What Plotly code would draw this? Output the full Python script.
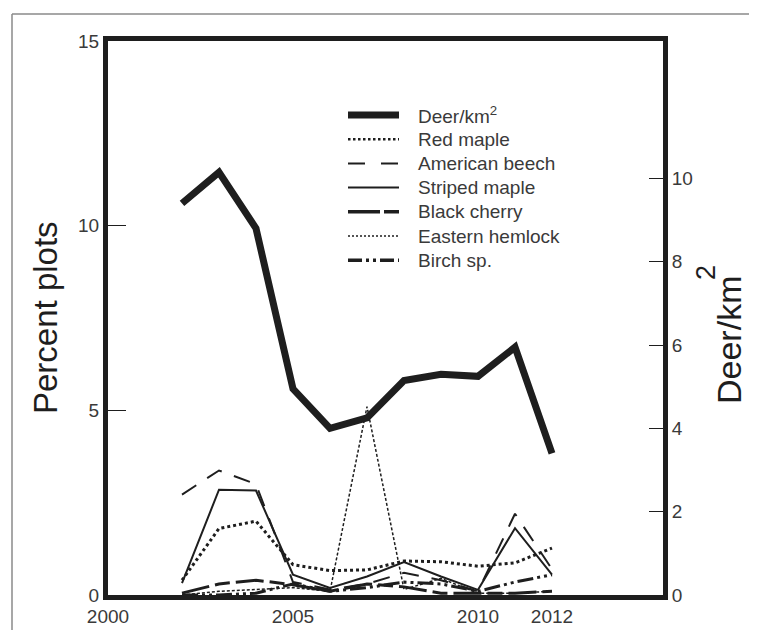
import plotly.graph_objects as go

years = [2002, 2003, 2004, 2005, 2006, 2007, 2008, 2009, 2010, 2011, 2012]
deer = [9.4, 10.15, 8.8, 4.95, 4.0, 4.25, 5.15, 5.3, 5.25, 5.95, 3.4]
red_maple = [0.4, 1.8, 2.0, 0.82, 0.66, 0.68, 0.92, 0.9, 0.78, 0.87, 1.27]
american_beech = [2.72, 3.37, 3.0, 0.35, 0.15, 0.3, 0.6, 0.4, 0.1, 2.2, 0.7]
striped_maple = [0.32, 2.85, 2.83, 0.55, 0.19, 0.5, 0.89, 0.5, 0.14, 1.81, 0.55]
black_cherry = [0.05, 0.3, 0.4, 0.28, 0.1, 0.3, 0.22, 0.05, 0.05, 0.05, 0.1]
eastern_hemlock = [0.0, 0.1, 0.15, 0.2, 0.1, 5.1, 0.15, 0.45, 0.05, 0.05, 0.1]
birch = [0.0, 0.0, 0.05, 0.3, 0.1, 0.2, 0.35, 0.3, 0.1, 0.35, 0.55]

series_names = ["Deer/km<sup>2</sup>", "Red maple", "American beech", "Striped maple",
                "Black cherry", "Eastern hemlock", "Birch sp."]

x_ticks = [2000, 2005, 2010, 2012]
y_ticks = [0, 5, 10, 15]
y2_ticks = [0, 2, 4, 6, 8, 10]

INK = "#1e1e1e"
TXT = "#3a3a3a"
FONT = "Liberation Sans, Arial, sans-serif"

# plot-area geometry in pixels (for the legend / frame placement)
L, R, T, B = 100, 102, 33, 43
PW, PH = 757 - L - R, 630 - T - B


def px_x(px):
    return (px - L) / PW


def px_y(py):
    return (630 - B - py) / PH


styles = [
    dict(color=INK, width=7),
    dict(color=INK, width=3, dash="3px,3px"),
    dict(color=INK, width=2, dash="17px,13px"),
    dict(color=INK, width=2),
    dict(color=INK, width=3, dash="28px,6px,15px,6px"),
    dict(color=INK, width=1.5, dash="3px,2px"),
    dict(color=INK, width=3, dash="16px,4px,3px,4px,3px,4px"),
]
legend_styles = [
    dict(color=INK, width=7),
    dict(color=INK, width=2.5, dash="2.5px,2.5px"),
    dict(color=INK, width=2, dash="17px,16px"),
    dict(color=INK, width=2),
    dict(color=INK, width=3.5, dash="32px,4px,15px,4px"),
    dict(color=INK, width=1.3, dash="2px,2px"),
    dict(color=INK, width=3.5, dash="14px,4px,3px,4px,3px,4px"),
]
data = [deer, red_maple, american_beech, striped_maple, black_cherry, eastern_hemlock, birch]

fig = go.Figure()
for i, (name, vals) in enumerate(zip(series_names, data)):
    fig.add_trace(go.Scatter(x=years, y=vals, name=name, mode="lines",
                             line=styles[i], yaxis="y2" if i == 0 else "y",
                             showlegend=False))

fig.update_layout(
    width=757, height=630,
    margin=dict(l=L, r=R, t=T, b=B),
    paper_bgcolor="white", plot_bgcolor="white",
    font=dict(family=FONT, color=TXT, size=19),
    showlegend=False,
    xaxis=dict(range=[2000, 2015], tickvals=x_ticks, ticktext=[str(v) for v in x_ticks],
               showgrid=False, zeroline=False, showline=True, linecolor=INK,
               linewidth=5, mirror=True, ticks="", tickfont=dict(size=19, color=TXT)),
    yaxis=dict(range=[0, 15], tickvals=y_ticks, showgrid=False, zeroline=False,
               showline=True, linecolor=INK, linewidth=5, ticks="inside",
               ticklen=18, tickwidth=1, tickcolor=INK,
               tickfont=dict(size=19, color=TXT)),
    yaxis2=dict(range=[0, 13.3], tickvals=y2_ticks, overlaying="y", side="right",
                showgrid=False, zeroline=False, showline=True, linecolor=INK,
                linewidth=5, ticks="inside", ticklen=14, tickwidth=1, tickcolor=INK,
                tickfont=dict(size=19, color=TXT)),
)

# legend (drawn in the plot area like the reference)
for i, name in enumerate(series_names):
    yc = 107 + 24.2 * i
    fig.add_shape(type="line", xref="paper", yref="paper",
                  x0=px_x(340), x1=px_x(391), y0=px_y(yc), y1=px_y(yc),
                  line=legend_styles[i])
    fig.add_annotation(text=name, xref="paper", yref="paper",
                       x=px_x(408), y=px_y(yc), xanchor="left", yanchor="middle",
                       showarrow=False, font=dict(size=19, color=TXT, family=FONT))

fig.add_annotation(text="Percent plots", xref="paper", yref="paper",
                   x=px_x(37), y=px_y(310), xanchor="center", yanchor="middle",
                   textangle=-90, showarrow=False,
                   font=dict(size=33, color=INK, family=FONT))
# right axis title: "Deer/km" with its detached superscript "2" as in the reference
fig.add_annotation(text="Deer/km", xref="paper", yref="paper",
                   x=px_x(721), y=px_y(332), xanchor="center", yanchor="middle",
                   textangle=-90, showarrow=False,
                   font=dict(size=34, color=INK, family=FONT))
fig.add_annotation(text="2", xref="paper", yref="paper",
                   x=px_x(698), y=px_y(265), xanchor="center", yanchor="middle",
                   textangle=-90, showarrow=False,
                   font=dict(size=27, color=INK, family=FONT))

# outer frame lines (top and left)
fig.add_shape(type="line", xref="paper", yref="paper",
              x0=px_x(4), x1=px_x(757), y0=px_y(6), y1=px_y(6),
              line=dict(color="#8a8a8a", width=1.5))
fig.add_shape(type="line", xref="paper", yref="paper",
              x0=px_x(4), x1=px_x(4), y0=px_y(6), y1=px_y(640),
              line=dict(color="#8a8a8a", width=1.5))

fig.write_html("out.html")
